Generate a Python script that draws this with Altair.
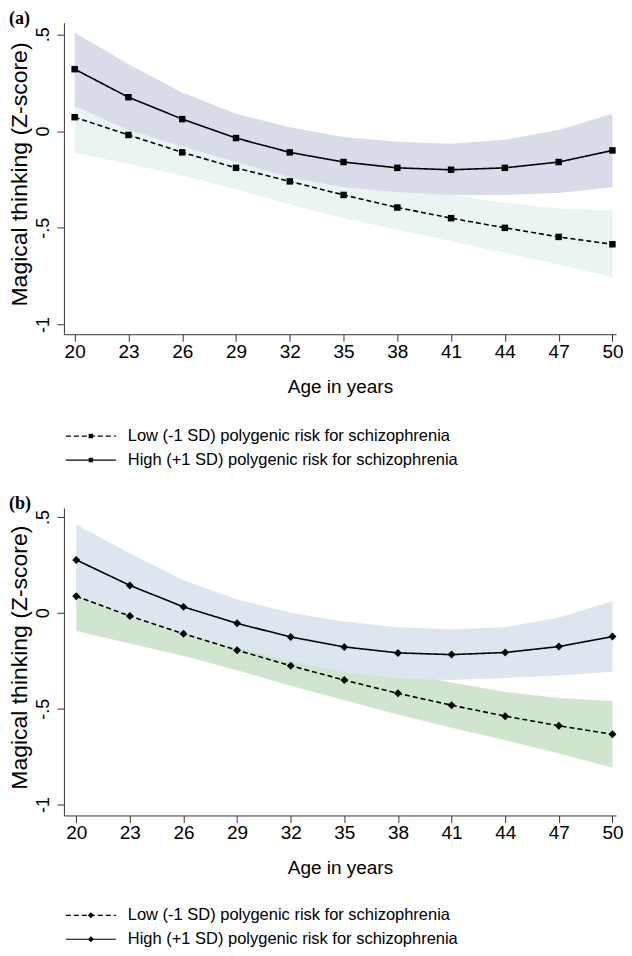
import altair as alt
import pandas as pd

ages = [20, 23, 26, 29, 32, 35, 38, 41, 44, 47, 50]
LOW = "Low (-1 SD) polygenic risk for schizophrenia"
HIGH = "High (+1 SD) polygenic risk for schizophrenia"
panel_labels = ["(a)", "(b)"]
Y_TITLE = "Magical thinking (Z-score)"

# Panel (a)
a_high = [0.32, 0.175, 0.062, -0.036, -0.11, -0.16, -0.19, -0.20, -0.19, -0.16, -0.10]
a_high_lo = [0.13, 0.005, -0.08, -0.16, -0.24, -0.29, -0.315, -0.33, -0.33, -0.32, -0.29]
a_high_hi = [0.51, 0.345, 0.20, 0.09, 0.02, -0.03, -0.055, -0.065, -0.045, 0.005, 0.09]
a_low = [0.072, -0.02, -0.11, -0.19, -0.26, -0.33, -0.395, -0.45, -0.50, -0.547, -0.585]
a_low_lo = [-0.113, -0.17, -0.23, -0.30, -0.38, -0.45, -0.51, -0.57, -0.63, -0.69, -0.757]
a_low_hi = [0.257, 0.13, 0.01, -0.08, -0.14, -0.21, -0.28, -0.33, -0.37, -0.40, -0.41]

# Panel (b)
b_high = [0.276, 0.143, 0.031, -0.055, -0.126, -0.178, -0.209, -0.218, -0.207, -0.176, -0.124]
b_high_lo = [0.09, -0.024, -0.108, -0.18, -0.252, -0.31, -0.343, -0.35, -0.34, -0.327, -0.307]
b_high_hi = [0.461, 0.31, 0.17, 0.07, 0.0, -0.045, -0.075, -0.086, -0.075, -0.025, 0.06]
b_low = [0.086, -0.017, -0.109, -0.195, -0.276, -0.351, -0.42, -0.482, -0.539, -0.589, -0.634]
b_low_lo = [-0.095, -0.16, -0.225, -0.30, -0.38, -0.456, -0.53, -0.60, -0.665, -0.734, -0.808]
b_low_hi = [0.267, 0.126, 0.007, -0.09, -0.172, -0.246, -0.31, -0.364, -0.413, -0.444, -0.46]

y_ticks = [-1, -0.5, 0, 0.5]
FONT = "Liberation Sans"


def panel_df(high, high_lo, high_hi, low, low_lo, low_hi):
    rows = []
    for s, m, lo, hi in [(LOW, low, low_lo, low_hi), (HIGH, high, high_lo, high_hi)]:
        for a, v, l, h in zip(ages, m, lo, hi):
            rows.append({"age": a, "series": s, "mean": v, "lo": l, "hi": h})
    return pd.DataFrame(rows)


def panel(df, label, xdom, ydom, band_colors, shape, size, width, height):
    xs = alt.Scale(domain=xdom, nice=False, zero=False)
    ys = alt.Scale(domain=ydom, nice=False, zero=False)
    xaxis = alt.Axis(values=ages, title="Age in years", titleFontSize=19,
                     titleFontWeight="normal", titleColor="black", titlePadding=16,
                     titleFont=FONT, labelFont=FONT,
                     labelFontSize=19, labelColor="black", labelPadding=1,
                     tickSize=7, tickColor="#333", domainColor="#333",
                     grid=False, labelFlush=False)
    yaxis = alt.Axis(values=y_ticks,
                     labelExpr="datum.value == 0.5 ? '.5' : datum.value == 0 ? '0' : datum.value == -0.5 ? '-.5' : '-1'",
                     labelAngle=-90, labelAlign="center", labelBaseline="bottom",
                     title="", titlePadding=0,
                     labelFont=FONT, labelFontSize=18, labelColor="black", labelPadding=4,
                     tickSize=7, tickColor="#333", domainColor="#333", grid=False)
    x = alt.X("age:Q", scale=xs, axis=xaxis)
    base = alt.Chart(df)
    low_band = base.transform_filter(alt.datum.series == LOW).mark_area(
        color=band_colors[0], opacity=1).encode(
        x=x, y=alt.Y("lo:Q", scale=ys, axis=yaxis), y2="hi:Q")
    high_band = base.transform_filter(alt.datum.series == HIGH).mark_area(
        color=band_colors[1], opacity=1).encode(
        x=x, y=alt.Y("lo:Q", scale=ys, axis=yaxis), y2="hi:Q")
    lines = base.mark_line(color="black", strokeWidth=1.6).encode(
        x=x, y=alt.Y("mean:Q", scale=ys, axis=yaxis),
        strokeDash=alt.StrokeDash("series:N", scale=alt.Scale(domain=[LOW, HIGH], range=[[5, 3], [1, 0]]), legend=None),
        detail="series:N")
    pts = base.mark_point(filled=True, color="black", shape=shape, size=size, opacity=1).encode(
        x=x, y=alt.Y("mean:Q", scale=ys, axis=yaxis))
    tag = alt.Chart(pd.DataFrame({"label": [label]})).mark_text(
        align="left", baseline="middle", font="Liberation Serif", fontWeight="bold",
        fontSize=18, color="black").encode(
        x=alt.value(-55), y=alt.value(-4), text="label:N")
    ytitle = alt.Chart(pd.DataFrame({"t": [Y_TITLE]})).mark_text(
        align="center", baseline="middle", angle=270, font=FONT, fontSize=23,
        color="black").encode(
        x=alt.value(-44), y=alt.value(height / 2 - 4), text="t:N")
    return alt.layer(low_band, high_band, lines, pts, tag, ytitle).properties(width=width, height=height)


def legend(shape, size, width):
    ldf = pd.DataFrame({"series": [LOW, HIGH]})
    ys = alt.Y("series:N", scale=alt.Scale(domain=[LOW, HIGH], type="point", padding=1 / 3), axis=None)
    rule = alt.Chart(ldf).mark_rule(color="black", strokeWidth=1.2).encode(
        x=alt.value(2), x2=alt.value(52), y=ys,
        strokeDash=alt.StrokeDash("series:N", scale=alt.Scale(domain=[LOW, HIGH], range=[[4, 2], [1, 0]]), legend=None))
    pt = alt.Chart(ldf).mark_point(filled=True, color="black", shape=shape, size=size, opacity=1).encode(
        x=alt.value(27), y=ys)
    txt = alt.Chart(ldf).mark_text(align="left", baseline="middle", font=FONT, fontSize=16.5, color="black").encode(
        x=alt.value(64), y=ys, text="series:N")
    return alt.layer(rule, pt, txt).properties(width=width, height=40)


dfa = panel_df(a_high, a_high_lo, a_high_hi, a_low, a_low_lo, a_low_hi)
dfb = panel_df(b_high, b_high_lo, b_high_hi, b_low, b_low_lo, b_low_hi)

W = 553
pa = panel(dfa, panel_labels[0], [19.4, 50.2], [-1.05, 0.56], ["#eaf4f2", "#d8dbe8"], "square", 42, W, 312)
pb = panel(dfb, panel_labels[1], [19.31, 50.2], [-1.057, 0.547], ["#d0e5cd", "#dde6ee"], "diamond", 64, W, 308)

top = alt.vconcat(pa, legend("square", 20, W), spacing=30)
bot = alt.vconcat(pb, legend("diamond", 36, W), spacing=28)

chart = alt.vconcat(top, bot, spacing=25).properties(padding=0).configure(
    font=FONT, view=alt.ViewConfig(stroke="transparent"))

chart.save("out.html", embed_options={"renderer": "svg", "actions": False})
